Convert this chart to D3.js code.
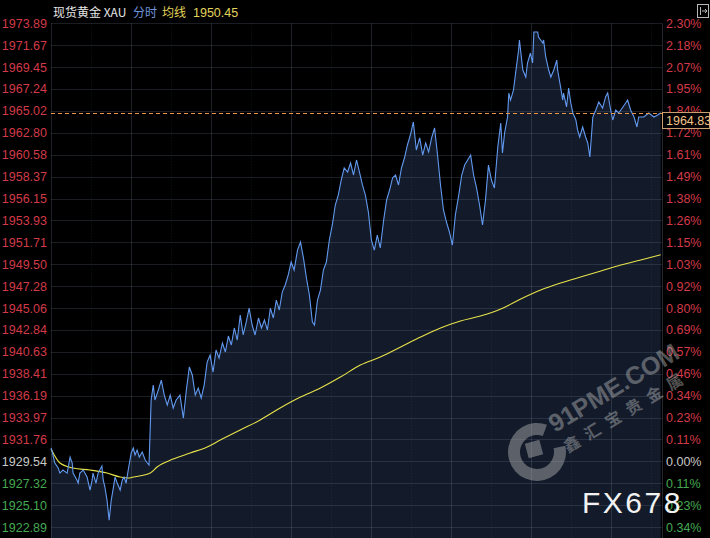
<!DOCTYPE html>
<html><head><meta charset="utf-8">
<script src="https://cdn.jsdelivr.net/npm/d3@7"></script>
<style>html,body{margin:0;padding:0;background:#000;overflow:hidden}</style>
</head><body>
<svg id="c" width="710" height="538" xmlns="http://www.w3.org/2000/svg"></svg>
<script>
// ---------------- data ----------------
const baseClose = 1929.54;
const lastPrice = 1964.83;
const avgLast = 1950.45;
const titleName = "现货黄金 XAU";
const titleMode = "分时";
const titleAvg = "均线";
const priceTicks = ["1973.89","1971.67","1969.45","1967.24","1965.02","1962.80","1960.58","1958.37","1956.15","1953.93","1951.71","1949.50","1947.28","1945.06","1942.84","1940.63","1938.41","1936.19","1933.97","1931.76","1929.54","1927.32","1925.10","1922.89"];
const pctTicks = ["2.30%","2.18%","2.07%","1.95%","1.84%","1.72%","1.61%","1.49%","1.38%","1.26%","1.15%","1.03%","0.92%","0.80%","0.69%","0.57%","0.46%","0.34%","0.23%","0.11%","0.00%","0.11%","0.23%","0.34%"];
// minutes since session open (session = 1440 min)
const priceTimes = [0,2,9,17,21,28,38,45,50,52,61,64,68,76,85,92,97,99,106,111,120,123,127,132,137,142,146,151,156,163,168,172,177,182,189,194,198,203,208,215,222,227,231,236,
241,245,253,260,267,274,281,288,295,304,312,319,326,333,340,347,354,361,368,375,382,389,396,404,411,418,425,432,439,446,453,460,467,474,481,489,496,503,510,517,524,531,538,545,552,559,566,573,581,588,595,602,609,616,621,628,635,642,649,656,663,
670,677,684,691,699,706,713,720,727,734,741,748,755,762,769,776,784,791,798,805,812,819,826,833,840,847,854,861,869,876,883,890,897,904,911,918,925,932,939,946,953,961,968,975,982,989,996,1003,1010,1017,1024,1031,1038,1045,1053,1060,1064,1069,1076,1079,1083,1090,1095,1102,1104,1112,1119,1123,1130,1135,1138,1147,1149,1159,1161,1166,1173,1178,1185,1192,1194,1201,1206,1208,1215,1220,1225,1230,1237,1241,1246,1253,1260,1265,1270,1277,1284,1291,1300,1307,1312,1319,1324,1331,1338,1348,1359,1366,1374,1381,1385,1397,1409,1421,1430,1437];
const priceValues = [1930.90,1930.68,1929.37,1928.86,1928.35,1928.66,1928.35,1929.97,1929.37,1928.35,1927.65,1927.34,1928.35,1928.66,1927.95,1926.63,1927.65,1928.35,1927.34,1928.35,1929.06,1927.65,1926.94,1925.62,1923.59,1925.62,1926.63,1927.95,1927.34,1926.63,1927.65,1927.95,1927.34,1928.66,1930.38,1930.88,1930.18,1930.68,1929.97,1930.48,1929.67,1929.37,1929.16,1935.75,
1937.26,1935.75,1936.76,1937.77,1936.25,1935.24,1936.25,1934.94,1935.75,1936.25,1933.92,1936.76,1939.09,1938.28,1936.25,1936.96,1935.95,1937.26,1939.59,1940.30,1938.58,1940.81,1940.00,1941.52,1940.61,1942.23,1941.32,1943.04,1941.82,1944.35,1942.33,1943.64,1945.06,1943.34,1942.33,1944.05,1943.04,1943.85,1942.84,1945.06,1944.05,1945.87,1944.86,1946.68,1947.39,1948.40,1949.72,1948.91,1950.93,1951.75,1950.12,1948.10,1946.38,1943.64,1943.34,1945.87,1946.88,1948.91,1949.72,1951.95,1953.47,
1955.49,1956.50,1958.02,1959.24,1958.83,1959.74,1958.53,1960.05,1958.83,1957.52,1956.50,1954.78,1951.95,1950.93,1952.45,1951.14,1953.97,1956.00,1957.01,1958.23,1958.53,1957.52,1959.24,1960.25,1961.57,1962.58,1963.90,1961.06,1962.28,1960.55,1961.77,1960.86,1962.28,1963.29,1960.55,1957.52,1954.99,1953.77,1952.76,1951.44,1954.48,1956.50,1958.53,1959.54,1960.05,1960.55,1958.53,1957.21,1955.49,1953.47,1956.00,1959.54,1958.02,1957.21,1961.36,1963.80,1960.76,1962.78,1964.40,1966.83,1966.12,1967.14,1968.86,1971.19,1972.20,1969.16,1968.45,1969.87,1970.88,1969.87,1973.01,1973.01,1972.50,1971.90,1972.20,1970.48,1969.16,1968.45,1969.16,1970.17,1969.16,1967.44,1966.12,1966.83,1965.42,1967.34,1965.82,1964.81,1964.10,1963.09,1962.38,1963.39,1962.38,1961.77,1960.35,1964.40,1965.11,1965.92,1965.31,1966.43,1966.83,1965.11,1964.10,1965.11,1964.81,1965.42,1966.12,1965.11,1964.40,1963.39,1964.40,1964.40,1964.81,1964.40,1964.60,1964.83];
const avgTimes = [0,21,52,92,132,163,182,194,234,250,288,328,368,399,446,493,540,588,635,682,729,776,824,871,918,965,1012,1060,1107,1154,1201,1248,1296,1343,1390,1437];
const avgValues = [1930.78,1929.37,1928.86,1928.66,1928.35,1927.95,1927.85,1927.95,1928.35,1928.96,1929.77,1930.38,1930.99,1931.69,1932.71,1933.72,1934.94,1936.05,1936.96,1938.07,1939.29,1940.10,1941.11,1942.12,1943.04,1943.75,1944.25,1944.96,1945.97,1946.88,1947.59,1948.20,1948.81,1949.42,1949.92,1950.45];

// ---------------- layout ----------------
const W = 710, H = 538;
const L = 51, R = 662, T = 23.3, B = 527;
const svg = d3.select("#c");
const font = "'Liberation Sans', Arial, 'Noto Sans CJK SC', sans-serif";
const cjk = "'Noto Sans CJK SC', 'Liberation Sans', sans-serif";
const red = "#d23a48", green = "#45a852", neutral = "#c8c8c8";

const x = d3.scaleLinear().domain([0, 1440]).range([L, R]);
const y = d3.scaleLinear().domain([+priceTicks[priceTicks.length-1], +priceTicks[0]]).range([B, T]);

svg.append("rect").attr("width", W).attr("height", H).attr("fill", "#000");

const price = priceTimes.map((t, i) => ({t, v: priceValues[i]}));
const avg = avgTimes.map((t, i) => ({t, v: avgValues[i]}));

// area under price
svg.append("path").datum(price)
  .attr("d", d3.area().x(d => x(d.t)).y0(H).y1(d => y(d.v)))
  .attr("fill", "#131b2b");

// grid
const g = svg.append("g");
priceTicks.forEach(s => {
  const yy = Math.round(y(+s)) + 0.5;
  g.append("line").attr("x1", L).attr("x2", R).attr("y1", yy).attr("y2", yy)
    .attr("stroke", "rgba(120,130,150,0.22)").attr("stroke-width", 1);
});
for (let px = L; px <= R; px += 40) {
  const major = ((px - L) / 40) % 2 === 0;
  g.append("line").attr("x1", px + 0.5).attr("x2", px + 0.5).attr("y1", T).attr("y2", H)
    .attr("stroke", major ? "rgba(120,130,150,0.25)" : "rgba(120,130,150,0.16)")
    .attr("stroke-dasharray", major ? null : "1,2");
}
g.append("line").attr("x1", R + 0.5).attr("x2", R + 0.5).attr("y1", T).attr("y2", H)
  .attr("stroke", "rgba(120,130,150,0.3)");

// average line
svg.append("path").datum(avg)
  .attr("d", d3.line().x(d => x(d.t)).y(d => y(d.v)).curve(d3.curveMonotoneX))
  .attr("fill", "none").attr("stroke", "#e8e24a").attr("stroke-width", 1.1);

// price line
svg.append("path").datum(price)
  .attr("d", d3.line().x(d => x(d.t)).y(d => y(d.v)))
  .attr("fill", "none").attr("stroke", "#6299ef").attr("stroke-width", 1.1);

// last price dashed
const yl = Math.round(y(lastPrice)) + 0.5;
svg.append("line").attr("x1", L).attr("x2", R).attr("y1", yl).attr("y2", yl)
  .attr("stroke", "#e8954a").attr("stroke-width", 1).attr("stroke-dasharray", "4,3");

// axes labels
const colorFor = s => (+s > baseClose + 1e-6 ? red : (+s < baseClose - 1e-6 ? green : neutral));
priceTicks.forEach((s, i) => {
  const yy = y(+s);
  svg.append("text").attr("x", 47).attr("y", yy).attr("dy", "0.36em")
    .attr("text-anchor", "end").attr("font-family", font).attr("font-size", 12.5)
    .attr("fill", colorFor(s)).text(s);
  svg.append("text").attr("x", 666).attr("y", yy).attr("dy", "0.36em")
    .attr("text-anchor", "start").attr("font-family", font).attr("font-size", 12.5)
    .attr("fill", colorFor(s)).text(pctTicks[i]);
});

// last price box
svg.append("rect").attr("x", R + 0.5).attr("y", yl - 1).attr("width", 47).attr("height", 16)
  .attr("fill", "#000").attr("stroke", "#caa070").attr("stroke-width", 1);
svg.append("text").attr("x", 666).attr("y", yl + 11.5).attr("font-family", font).attr("font-size", 12.5)
  .attr("fill", "#f0c48a").text(lastPrice.toFixed(2));

// title
svg.append("text").attr("x", 53).attr("y", 17).attr("font-family", cjk).attr("font-size", 12).attr("fill", "#e6e6e6").text(titleName);
svg.append("text").attr("x", 133).attr("y", 17).attr("font-family", cjk).attr("font-size", 12).attr("fill", "#6f95dc").text(titleMode);
svg.append("text").attr("x", 162).attr("y", 17).attr("font-family", cjk).attr("font-size", 12).attr("fill", "#e2d45a").text(titleAvg);
svg.append("text").attr("x", 193).attr("y", 17).attr("font-family", font).attr("font-size", 12.5).attr("fill", "#e2d45a").text(avgLast.toFixed(2));

// top-right icon
const ic = svg.append("g").attr("stroke", "#b8b8b8").attr("fill", "none").attr("stroke-width", 1);
ic.append("rect").attr("x", 697.5).attr("y", 4.5).attr("width", 11).attr("height", 13);
ic.append("path").attr("d", "M700.5,7 V15 M702,11 H707 M705,9 L707,11 L705,13");

// watermark
const wm = svg.append("g").attr("opacity", 0.45);
wm.append("path").attr("transform", "translate(537,452)")
  .attr("d", d3.arc().innerRadius(17).outerRadius(29).startAngle(1.35).endAngle(2 * Math.PI + 0.35)())
  .attr("fill", "#b4b4b4");
wm.append("rect").attr("x", -7.5).attr("y", -7.5).attr("width", 15).attr("height", 15)
  .attr("transform", "translate(534,449) rotate(-15)").attr("fill", "#b4b4b4");
wm.append("text").attr("transform", "translate(555,433) rotate(-31)")
  .attr("font-family", font).attr("font-weight", "bold").attr("font-size", 25).attr("fill", "#b4b4b4").text("91PME.COM");
wm.append("text").attr("transform", "translate(568,453) rotate(-31)")
  .attr("font-family", cjk).attr("font-weight", "bold").attr("font-size", 16).attr("letter-spacing", 8).attr("fill", "#b4b4b4").text("鑫汇宝贵金属");

svg.append("text").attr("x", 582).attr("y", 513).attr("font-family", font).attr("font-size", 30)
  .attr("letter-spacing", 2.5).attr("fill", "#f2f2f2").text("FX678");
</script>
</body></html>
